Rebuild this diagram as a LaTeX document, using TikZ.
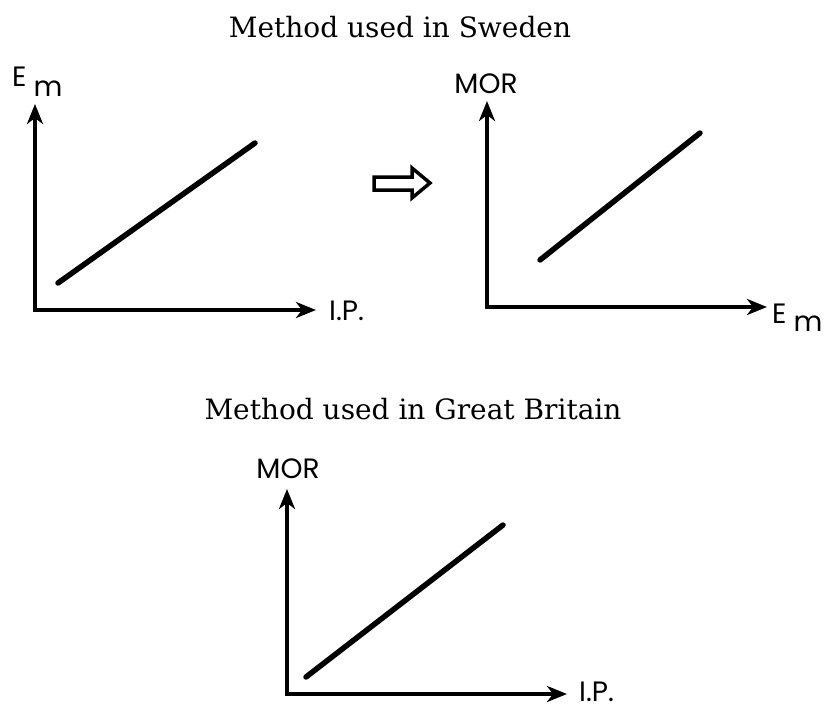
\documentclass[tikz,border=0pt]{standalone}
\usepackage{fontspec}
\newfontfamily\lblfont{Poppins}
\newfontfamily\headfont{DejaVu Serif}
\usetikzlibrary{arrows.meta}

\begin{document}
\begin{tikzpicture}[x=1pt,y=-1pt,
  axis/.style={line width=4pt,line join=miter,
    {Stealth[length=20pt,width=16pt,inset=6pt]}-{Stealth[length=20pt,width=16pt,inset=6pt]}},
  trend/.style={line width=5.5pt,line cap=round},
  lbl/.style={font=\lblfont\fontsize{28}{32}\selectfont,inner sep=0pt},
  heading/.style={font=\headfont\fontsize{28}{33}\selectfont,inner sep=0pt}]
\useasboundingbox (0,0) rectangle (827,707);
% headings
\node[heading,anchor=base] (T1) at (400,37) {Method used in Sweden};
\node[heading,anchor=base] (T2) at (413,419) {Method used in Great Britain};
% graph 1
\coordinate (O1) at (35,310); \coordinate (Y1) at (35,104); \coordinate (X1) at (316,310);
\coordinate (A1) at (58,283); \coordinate (B1) at (255,143);
\draw[axis] (Y1) -- (O1) -- (X1);
\draw[trend] (A1) -- (B1);
\node[lbl,anchor=base west] (yl1) at (12,86) {E\hspace{7pt}\raisebox{-10pt}{m}};
\node[lbl,anchor=base west] (xl1) at (329,320) {I.P.};
% hollow arrow
\draw[line width=3.5pt,line join=miter] (374,177) -- (412,177) -- (412,168) -- (430,183)
  -- (412,198) -- (412,190) -- (374,190) -- cycle;
% graph 2
\coordinate (O2) at (487,307); \coordinate (Y2) at (487,101); \coordinate (X2) at (767,307);
\coordinate (A2) at (540,260); \coordinate (B2) at (700,133);
\draw[axis] (Y2) -- (O2) -- (X2);
\draw[trend] (A2) -- (B2);
\node[lbl,anchor=base] (yl2) at (486,93) {MOR};
\node[lbl,anchor=base west] (xl2) at (772,323) {E\hspace{7pt}\raisebox{-8pt}{m}};
% graph 3
\coordinate (O3) at (287,694); \coordinate (Y3) at (287,489); \coordinate (X3) at (567,694);
\coordinate (A3) at (306,677); \coordinate (B3) at (503,525);
\draw[axis] (Y3) -- (O3) -- (X3);
\draw[trend] (A3) -- (B3);
\node[lbl,anchor=base] (yl3) at (288,478) {MOR};
\node[lbl,anchor=base west] (xl3) at (579,701) {I.P.};
\end{tikzpicture}
\end{document}
